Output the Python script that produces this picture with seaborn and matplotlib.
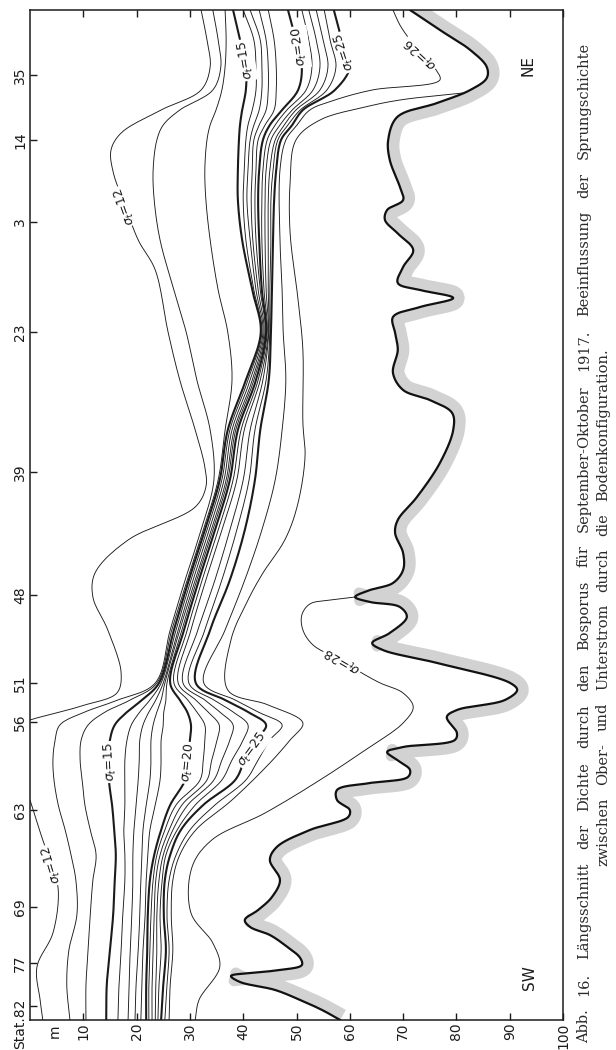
import numpy as np
import matplotlib
matplotlib.use("Agg")
import matplotlib.pyplot as plt
import seaborn as sns

# ---------------- values ----------------
# x = depth in m, y = distance along the strait (0 = SW edge, 101 = NE edge)

stations = ["Stat.82", "77", "69", "63", "56", "51", "48", "39", "23", "3", "14", "35"]
station_pos = [1.4, 5.7, 11.3, 21.0, 29.8, 33.7, 42.5, 54.8, 68.8, 79.8, 88.0, 94.5]
depth_ticks = [10, 20, 30, 40, 50, 60, 70, 80, 90, 100]

# positions at which the sigma-t 13..25 lines were read
knot_pos = [101.0, 98.0, 95.3, 93.0, 91.0, 89.5, 88.0, 85.0, 82.0, 78.0, 73.0, 68.8, 64.0,
            59.0, 54.0, 49.0, 44.0, 39.0, 33.7, 32.0, 30.8, 29.5, 28.0, 26.0, 24.0, 21.5,
            19.0, 16.5, 14.0, 10.5, 7.0, 3.5, 0.0]

sig13 = [34.3, 35.3, 35.8, 34.3, 28.1, 25.0, 23.8, 23.1, 23.3, 24.4, 27.0, 29.3, 31.3, 33.8, 34.5, 32.1, 29.1,
         26.3, 23.5, 16.5, 10.3, 5.6, 4.7, 4.3, 4.5, 5.3, 6.6, 7.7, 8.6, 8.8, 7.3, 6.9, 7.5]
sig14 = [36.6, 36.8, 36.6, 36.0, 34.9, 33.8, 33.2, 32.8, 33.0, 33.8, 35.3, 37.1, 37.9, 36.6, 35.3, 32.5, 29.5,
         26.6, 23.8, 18.8, 14.1, 10.9, 9.6, 9.4, 9.8, 10.3, 11.3, 12.4, 11.8, 11.3, 10.9, 10.5, 10.5]
sig15 = [38.1, 39.4, 40.5, 40.5, 39.8, 39.4, 39.2, 39.0, 39.0, 39.8, 41.7, 43.3, 40.5, 37.1, 35.6, 32.8, 29.8,
         27.0, 24.2, 21.0, 18.2, 15.9, 15.0, 14.8, 14.8, 15.4, 15.8, 16.1, 15.9, 15.6, 15.0, 14.4, 14.3]
sig16 = [40.0, 42.0, 42.4, 42.4, 41.7, 40.9, 40.5, 40.2, 40.0, 40.5, 42.0, 43.5, 40.9, 37.5, 36.0, 33.2, 30.2,
         27.4, 24.6, 22.5, 20.6, 19.0, 18.2, 17.8, 17.8, 17.8, 17.6, 17.8, 17.8, 17.4, 17.1, 16.7, 16.5]
sig17 = [41.3, 43.2, 43.5, 43.5, 43.0, 42.0, 41.3, 40.9, 40.7, 41.3, 42.4, 43.7, 41.3, 37.9, 36.4, 33.6, 30.6,
         27.8, 25.0, 23.6, 22.3, 21.2, 20.6, 20.5, 20.3, 19.9, 19.5, 19.3, 19.3, 19.1, 18.8, 18.6, 18.4]
sig18 = [43.0, 44.3, 44.7, 44.7, 44.3, 43.0, 42.0, 41.7, 41.5, 41.8, 42.8, 43.9, 41.7, 38.3, 36.8, 34.0, 31.0,
         28.1, 25.3, 24.6, 23.8, 23.1, 22.7, 22.7, 22.5, 21.8, 21.2, 21.0, 20.8, 20.6, 20.3, 19.9, 19.7]
sig19 = [44.7, 45.8, 46.2, 46.2, 45.8, 44.1, 42.8, 42.4, 42.2, 42.4, 43.2, 44.1, 42.0, 38.6, 37.1, 34.3, 31.3,
         28.5, 25.7, 25.5, 25.1, 25.0, 24.6, 24.6, 24.4, 23.5, 22.5, 22.1, 21.8, 21.6, 21.2, 21.0, 20.8]
sig20 = [48.4, 49.9, 51.0, 50.3, 47.3, 45.0, 43.7, 43.0, 42.8, 43.0, 43.5, 44.3, 42.4, 39.0, 37.5, 34.7, 31.7,
         28.9, 26.3, 28.1, 29.5, 30.2, 30.0, 29.6, 29.1, 26.3, 24.6, 23.3, 22.5, 22.1, 22.0, 21.8, 21.8]
sig21 = [51.0, 52.3, 52.9, 51.8, 48.2, 46.0, 44.5, 43.7, 43.5, 43.5, 43.9, 44.5, 42.8, 39.6, 38.1, 35.3, 32.3,
         29.5, 27.0, 29.6, 31.3, 32.8, 32.8, 32.5, 31.9, 27.4, 25.3, 23.8, 23.1, 22.7, 22.5, 22.3, 22.3]
sig22 = [52.3, 53.7, 54.4, 53.1, 49.2, 46.9, 45.2, 44.3, 44.1, 44.1, 44.3, 44.7, 43.2, 40.2, 38.8, 36.0, 33.0,
         30.2, 27.8, 31.1, 33.4, 35.5, 35.1, 34.1, 33.2, 28.5, 26.1, 24.4, 23.6, 23.3, 23.1, 22.9, 22.9]
sig23 = [53.7, 55.0, 55.9, 54.4, 49.9, 47.7, 46.0, 45.0, 44.7, 44.7, 44.7, 44.8, 43.7, 41.3, 40.0, 37.5, 34.7,
         31.5, 28.7, 32.8, 35.6, 38.1, 37.5, 36.0, 34.5, 29.6, 26.8, 25.0, 24.2, 23.8, 23.8, 23.6, 23.5]
sig24 = [55.2, 56.3, 57.4, 55.7, 50.7, 48.4, 46.5, 45.6, 45.2, 45.2, 45.0, 45.0, 44.3, 42.2, 41.1, 38.8, 36.0,
         32.8, 29.8, 34.5, 38.1, 40.9, 40.0, 37.9, 36.0, 31.0, 27.6, 25.5, 24.8, 24.4, 24.6, 24.2, 24.0]
sig25 = [57.0, 58.5, 60.0, 57.2, 51.2, 49.2, 47.1, 46.2, 45.8, 45.6, 45.4, 45.2, 44.8, 43.2, 42.2, 40.3, 37.5,
         33.8, 31.1, 36.6, 40.9, 44.3, 42.4, 40.3, 38.5, 32.5, 28.3, 26.3, 25.3, 25.1, 25.5, 25.0, 24.6]

# lines with their own reading positions
sig12n_pos = [101.0, 98.0, 95.3, 93.0, 91.0, 88.7, 87.0, 84.8, 81.5, 78.0, 75.0, 68.8, 64.0, 59.0,
              55.3, 53.3, 51.3, 48.0, 44.7, 42.3, 39.0, 34.7, 32.7, 31.5, 30.8, 30.3, 30.0]
sig12n = [32.1, 33.2, 33.8, 32.1, 24.6, 17.1, 15.2, 15.6, 17.8, 20.3, 23.5, 25.9, 28.1, 31.0,
          32.8, 33.0, 31.0, 18.4, 12.2, 11.8, 14.6, 17.1, 16.3, 10.3, 5.6, 1.9, 0.0]
sig12s_pos = [22.0, 21.0, 18.0, 15.5, 13.0, 8.7, 5.3, 2.0, 0.0]
sig12s = [0.0, 0.6, 2.4, 4.1, 5.3, 4.3, 1.3, 1.9, 2.4]

sig26_pos = [101.0, 99.5, 98.0, 96.5, 95.0, 94.0, 93.0, 92.0, 91.0, 89.5, 88.0, 85.0, 78.0, 73.0,
             68.8, 64.0, 59.0, 54.0, 49.0, 44.0, 39.0, 33.7, 32.0, 30.8, 29.5, 28.0, 26.0, 24.0,
             21.5, 19.0, 16.5, 14.0, 10.5, 7.0, 3.5, 0.0]
sig26 = [68.1, 69.4, 71.3, 73.5, 76.2, 76.9, 64.2, 57.2, 52.5, 50.1, 48.0, 46.9, 46.9, 47.3,
         47.5, 48.0, 47.3, 46.0, 43.5, 40.3, 36.6, 32.6, 38.5, 42.8, 47.3, 45.0, 42.8, 40.5,
         34.7, 30.0, 27.4, 26.1, 25.7, 26.1, 25.7, 25.3]

sig27_pos = [92.7, 92.0, 91.3, 90.0, 88.0, 83.7, 78.7, 72.0, 67.0, 59.7, 56.3, 51.3, 48.0, 44.7,
             42.0, 38.0, 33.0, 31.5, 29.7, 28.0, 25.7, 22.0, 19.0, 16.5, 14.0, 10.5, 7.0, 3.5, 0.0]
sig27 = [81.2, 69.4, 62.9, 54.4, 49.9, 48.8, 48.8, 50.3, 51.2, 51.2, 51.6, 50.1, 47.8, 43.7,
         40.9, 37.7, 37.1, 44.7, 51.2, 48.8, 45.0, 37.9, 31.1, 28.1, 26.8, 26.5, 26.8, 26.3, 26.1]

sig28_pos = [42.3, 42.0, 41.6, 40.5, 39.0, 37.5, 36.0, 34.5, 33.7, 32.7, 31.3, 29.7, 27.0, 24.0,
             20.7, 18.0, 15.3, 10.7, 7.7, 5.3, 2.0, 0.0]
sig28 = [61.0, 56.3, 52.5, 51.0, 51.2, 53.1, 58.2, 62.9, 65.7, 70.0, 71.9, 70.0, 62.9, 54.4,
         44.1, 34.1, 30.4, 30.2, 34.3, 35.6, 31.7, 31.0]

# sea floor
bottom_pos = [101.0, 99.0, 97.0, 95.3, 94.2, 93.0, 91.7, 90.3, 88.0, 86.0, 83.3, 82.0, 81.0, 80.0,
              78.7, 77.0, 75.3, 73.7, 73.0, 72.2, 71.3, 70.3, 68.7, 67.0, 64.7, 63.0, 62.0, 60.7,
              59.0, 55.7, 52.3, 50.0, 48.7, 46.7, 45.0, 43.7, 43.0, 42.3, 41.8, 41.3, 40.3, 38.7,
              37.7, 37.0, 35.7, 33.7, 33.0, 32.0, 31.0, 30.3, 28.7, 28.0, 27.3, 26.8, 26.0, 25.0,
              24.3, 23.7, 23.0, 22.0, 21.0, 20.3, 19.0, 17.3, 16.0, 14.0, 12.3, 11.0, 10.0, 9.3,
              8.5, 7.5, 6.2, 5.5, 5.0, 4.7, 4.4, 3.8, 3.0, 2.0, 1.0, 0.0]
bottom_depth = [71.3, 76.9, 82.6, 85.7, 85.7, 82.6, 76.4, 68.9, 67.2, 67.5, 69.4, 70.0, 67.0, 66.6,
                68.9, 71.9, 70.0, 69.0, 73.2, 79.4, 73.2, 68.1, 68.5, 69.0, 68.1, 70.0, 75.0, 79.2,
                79.4, 76.9, 72.6, 69.0, 68.5, 70.0, 70.0, 68.1, 63.8, 61.0, 63.8, 69.4, 70.7, 67.5,
                64.2, 66.2, 76.4, 90.1, 91.4, 89.1, 80.1, 78.2, 80.1, 79.7, 70.0, 67.0, 68.9, 71.3,
                70.9, 63.8, 57.6, 57.6, 60.0, 59.7, 52.5, 46.3, 45.0, 46.9, 45.4, 42.8, 40.3, 41.3,
                45.0, 47.8, 50.7, 51.0, 46.9, 41.3, 37.7, 39.4, 46.0, 50.7, 54.8, 58.2]

# sigma-t labels: value, depth, position, angle
sigma_labels = [(12, 17.8, 81.4, 110), (15, 40.5, 96.0, 100), (20, 50.7, 97.3, 98),
                (25, 59.1, 96.8, 108), (26, 73.4, 96.7, 137), (15, 15.0, 25.8, 93),
                (20, 29.8, 25.7, 84), (25, 41.8, 27.0, 54), (28, 58.7, 36.0, 150),
                (12, 4.1, 15.5, 107)]

caption1 = ("Abb. 16. Längsschnitt der Dichte durch den Bosporus für "
            "September-Oktober 1917. Beeinflussung der Sprungschichte")
caption2 = "zwischen Ober- und Unterstrom durch die Bodenkonfiguration."

INK = "#1b1b1b"
XS, YS = 5.33, 10.0   # px per metre / per position unit (for smoothing only)


def smooth(dep, pos, n=14):
    """centripetal Catmull-Rom through the read points"""
    P = np.column_stack([np.asarray(dep, float) * XS, np.asarray(pos, float) * YS])
    P = np.vstack([2 * P[0] - P[1], P, 2 * P[-1] - P[-2]])
    out = [P[1]]
    for i in range(1, len(P) - 2):
        p0, p1, p2, p3 = P[i - 1], P[i], P[i + 1], P[i + 2]
        t0 = 0.0
        t1 = t0 + max(np.linalg.norm(p1 - p0), 1e-6) ** 0.5
        t2 = t1 + max(np.linalg.norm(p2 - p1), 1e-6) ** 0.5
        t3 = t2 + max(np.linalg.norm(p3 - p2), 1e-6) ** 0.5
        t = np.linspace(t1, t2, n)[1:, None]
        a1 = (t1 - t) / (t1 - t0) * p0 + (t - t0) / (t1 - t0) * p1
        a2 = (t2 - t) / (t2 - t1) * p1 + (t - t1) / (t2 - t1) * p2
        a3 = (t3 - t) / (t3 - t2) * p2 + (t - t2) / (t3 - t2) * p3
        b1 = (t2 - t) / (t2 - t0) * a1 + (t - t0) / (t2 - t0) * a2
        b2 = (t3 - t) / (t3 - t1) * a2 + (t - t1) / (t3 - t1) * a3
        out.extend((t2 - t) / (t2 - t1) * b1 + (t - t1) / (t2 - t1) * b2)
    out = np.array(out)
    return out[:, 0] / XS, out[:, 1] / YS


sns.set_style("white")
plt.rcParams["font.family"] = ["DejaVu Sans"]

fig = plt.figure(figsize=(6.16, 10.5), dpi=100)
ax = fig.add_axes([30 / 616, 30 / 1050, 533 / 616, 1010 / 1050])
ax.set_xlim(0, 100)
ax.set_ylim(0, 101)

# grey hatching on the ground side of the sea floor
bx, by = smooth(bottom_depth, bottom_pos, 24)
disp = ax.transData.transform(np.column_stack([bx, by]))
d = np.gradient(disp, axis=0)
nrm = np.column_stack([-d[:, 1], d[:, 0]])
nrm /= np.linalg.norm(nrm, axis=1, keepdims=True) + 1e-9
gx, gy = ax.transData.inverted().transform(disp + nrm * 6).T
ax.plot(gx, gy, color="#d2d2d2", lw=8, solid_capstyle="butt", zorder=1)

# sigma-t lines
grid_lines = {13: sig13, 14: sig14, 15: sig15, 16: sig16, 17: sig17, 18: sig18, 19: sig19,
              20: sig20, 21: sig21, 22: sig22, 23: sig23, 24: sig24, 25: sig25}
own_lines = [(sig12n, sig12n_pos, 12), (sig12s, sig12s_pos, 12), (sig26, sig26_pos, 26),
             (sig27, sig27_pos, 27), (sig28, sig28_pos, 28)]
all_lines = [(v, knot_pos, k) for k, v in grid_lines.items()] + own_lines

for dep, pos, sig in all_lines:
    x, y = smooth(dep, pos)
    lw = 1.5 if sig in (15, 20, 25) else 0.65
    sns.lineplot(x=x, y=y, sort=False, estimator=None, color=INK, lw=lw, ax=ax, zorder=3)

# sea floor line
sns.lineplot(x=bx, y=by, sort=False, estimator=None, color="#111111", lw=1.6, ax=ax, zorder=4)

for sig, dx, py, rot in sigma_labels:
    ax.text(dx, py, r"$\sigma_t$=" + str(sig), rotation=rot, ha="center", va="center",
            rotation_mode="anchor", fontsize=9, color=INK, zorder=5,
            bbox=dict(boxstyle="square,pad=0.12", fc="white", ec="none"))

ax.text(93.4, 95.4, "NE", rotation=90, ha="center", va="center", fontsize=11, color=INK)
ax.text(93.8, 4.2, "SW", rotation=90, ha="center", va="center", fontsize=11, color=INK)

# axes, ticks
for s in ax.spines.values():
    s.set_visible(True)
    s.set_color(INK)
    s.set_linewidth(1.1)

ax.set_yticks(station_pos)
ax.set_yticklabels([""] + stations[1:], rotation=90, va="center", fontsize=10)
ax.set_xticks(depth_ticks)
ax.set_xticklabels([str(v) for v in depth_ticks], rotation=90, fontsize=10)
ax.tick_params(axis="y", left=True, right=False, direction="in", length=5, width=1, pad=2,
               colors=INK)
ax.tick_params(axis="x", bottom=True, top=True, direction="in", length=5, width=1, pad=2,
               colors=INK)
ax.text(-0.019, 2.1, "Stat.82", transform=ax.get_yaxis_transform(), rotation=90,
        ha="center", va="top", fontsize=10, color=INK, clip_on=False)
ax.text(4.7, -0.4, "m", rotation=90, ha="center", va="top", fontsize=10, color=INK,
        clip_on=False)
ax.set_xlabel("")
ax.set_ylabel("")


# caption, justified along the right edge
def justified(text, xpix, y0, y1, size):
    words = text.split()
    objs = [fig.text(xpix / 616, 0, w, rotation=90, ha="center", va="bottom",
                     fontsize=size, family="DejaVu Serif", color="#2a2a2a") for w in words]
    fig.canvas.draw()
    r = fig.canvas.get_renderer()
    lens = [o.get_window_extent(r).height for o in objs]
    gap = ((y1 - y0) - sum(lens)) / max(len(words) - 1, 1)
    y = y0
    for o, L in zip(objs, lens):
        o.set_y(y / 1050)
        y += L + gap


justified(caption1, 584, 7, 1008, 10.5)
justified(caption2, 603, 184, 702, 10.5)

fig.savefig("out.png", dpi=100)
